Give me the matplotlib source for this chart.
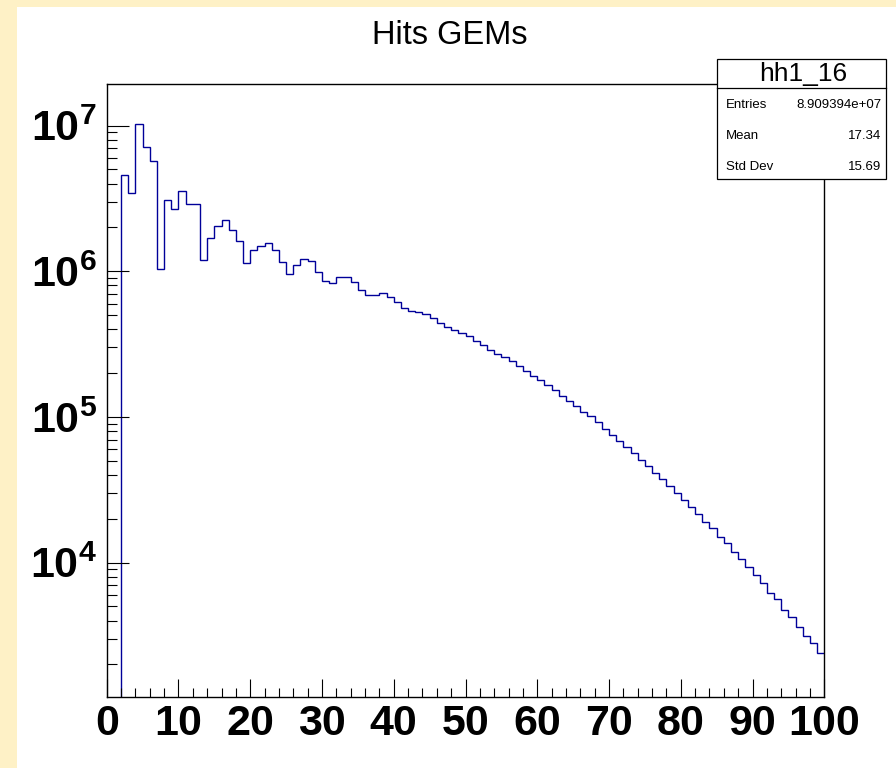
import numpy as np
import matplotlib
matplotlib.use("Agg")
import matplotlib.pyplot as plt
from matplotlib.patches import Rectangle
from matplotlib.lines import Line2D
from matplotlib.ticker import FixedLocator, FixedFormatter, MultipleLocator, LogLocator, NullFormatter

plt.rcParams['font.family'] = ['Liberation Sans', 'DejaVu Sans']
plt.rcParams['mathtext.fontset'] = 'custom'
plt.rcParams['mathtext.rm'] = 'Liberation Sans'
plt.rcParams['mathtext.bf'] = 'Liberation Sans:bold'
plt.rcParams['mathtext.it'] = 'Liberation Sans:italic'

# ---------------- data ----------------
title = "Hits GEMs"
hist_name = "hh1_16"
x_low, x_high, n_bins = 0, 100, 100
counts = [
    0, 0, 4.59e6, 3.47e6, 1.02e7, 7.17e6, 5.72e6, 1.04e6, 3.10e6, 2.68e6,
    3.56e6, 2.91e6, 2.89e6, 1.20e6, 1.69e6, 2.03e6, 2.26e6, 1.91e6, 1.61e6, 1.14e6,
    1.40e6, 1.48e6, 1.57e6, 1.40e6, 1.15e6, 9.64e5, 1.11e6, 1.21e6, 1.18e6, 9.93e5,
    8.63e5, 8.30e5, 9.19e5, 9.19e5, 8.45e5, 7.39e5, 6.91e5, 6.91e5, 7.10e5, 6.70e5,
    6.11e5, 5.63e5, 5.37e5, 5.29e5, 5.12e5, 4.81e5, 4.41e5, 4.12e5, 3.96e5, 3.79e5,
    3.58e5, 3.34e5, 3.10e5, 2.89e5, 2.72e5, 2.59e5, 2.41e5, 2.22e5, 2.06e5, 1.91e5,
    1.78e5, 1.65e5, 1.52e5, 1.39e5, 1.28e5, 1.18e5, 1.08e5, 1.02e5, 9.20e4, 8.28e4,
    7.56e4, 6.88e4, 6.23e4, 5.66e4, 5.10e4, 4.63e4, 4.15e4, 3.75e4, 3.38e4, 3.02e4,
    2.71e4, 2.41e4, 2.17e4, 1.91e4, 1.72e4, 1.51e4, 1.36e4, 1.19e4, 1.06e4, 9.30e3,
    8.23e3, 7.22e3, 6.23e3, 5.64e3, 4.74e3, 4.22e3, 3.64e3, 3.15e3, 2.82e3, 2.39e3,
]
x_major_ticks = [0, 10, 20, 30, 40, 50, 60, 70, 80, 90, 100]
x_tick_labels = ["0", "10", "20", "30", "40", "50", "60", "70", "80", "90", "100"]
y_major_ticks = [1e4, 1e5, 1e6, 1e7]
y_tick_labels = [r"$\mathbf{10^{4}}$", r"$\mathbf{10^{5}}$", r"$\mathbf{10^{6}}$", r"$\mathbf{10^{7}}$"]
y_range = (1190, 1.93e7)
stat_names = ["Entries", "Mean", "Std Dev"]
stat_values = ["8.909394e+07", "17.34", "15.69"]

# ---------------- figure ----------------
W, H = 896, 768
fig = plt.figure(figsize=(W / 100, H / 100), dpi=100)
fig.patch.set_facecolor('#fef1c6')
fig.add_artist(Rectangle((17 / W, 0), 1 - 17 / W, 1 - 7 / H, transform=fig.transFigure,
                         facecolor='white', edgecolor='none', zorder=-5))

ax = fig.add_axes([106.7 / W, 1 - 697.3 / H, 717.6 / W, 613.3 / H])
ax.set_yscale('log')
edges = np.linspace(x_low, x_high, n_bins + 1)
ax.stairs(counts, edges, baseline=None, color='#000099', linewidth=1.0)
ax.set_xlim(x_low, x_high)
ax.set_ylim(*y_range)

for s in ax.spines.values():
    s.set_linewidth(1.0)
    s.set_color('black')

ax.xaxis.set_major_locator(FixedLocator(x_major_ticks))
ax.xaxis.set_major_formatter(FixedFormatter(x_tick_labels))
ax.xaxis.set_minor_locator(MultipleLocator(2))
ax.yaxis.set_major_locator(FixedLocator(y_major_ticks))
ax.yaxis.set_major_formatter(FixedFormatter(y_tick_labels))
ax.yaxis.set_minor_locator(LogLocator(base=10, subs=np.arange(2, 10), numticks=20))
ax.yaxis.set_minor_formatter(NullFormatter())

ax.tick_params(axis='x', which='major', direction='in', length=13, width=0.8,
               labelsize=31, pad=5, top=False)
ax.tick_params(axis='x', which='minor', direction='in', length=6.5, width=0.8, top=False)
ax.tick_params(axis='y', which='major', direction='in', length=15.5, width=0.8,
               labelsize=31, pad=7, right=False)
ax.tick_params(axis='y', which='minor', direction='in', length=7.5, width=0.8, right=False)
for lab in ax.get_xticklabels():
    lab.set_fontweight('bold')

# title
fig.text(450 / W, 1 - 44.3 / H, title, ha='center', va='baseline', fontsize=23.5)

# stats box
bx0, bx1, by0, by1, bdiv = 716.7, 885.7, 59, 179.3, 88.3
fig.add_artist(Rectangle((bx0 / W, 1 - by1 / H), (bx1 - bx0) / W, (by1 - by0) / H,
                         transform=fig.transFigure, facecolor='white', edgecolor='black',
                         linewidth=0.9, zorder=5))
fig.add_artist(Line2D([bx0 / W, bx1 / W], [1 - bdiv / H, 1 - bdiv / H],
                      transform=fig.transFigure, color='black', linewidth=0.9, zorder=6))
fig.text((bx0 + bx1) / 2 / W + 2 / W, 1 - (by0 + bdiv) / 2 / H, hist_name, ha='center',
         va='center', fontsize=19, zorder=7)
row_y = [105, 136, 167]
for name, val, yy in zip(stat_names, stat_values, row_y):
    fig.text(726 / W, 1 - yy / H, name, ha='left', va='center', fontsize=9.5, zorder=7)
    fig.text(881 / W, 1 - yy / H, val, ha='right', va='center', fontsize=9.5, zorder=7)

fig.savefig('out.png', dpi=100, facecolor=fig.get_facecolor())
